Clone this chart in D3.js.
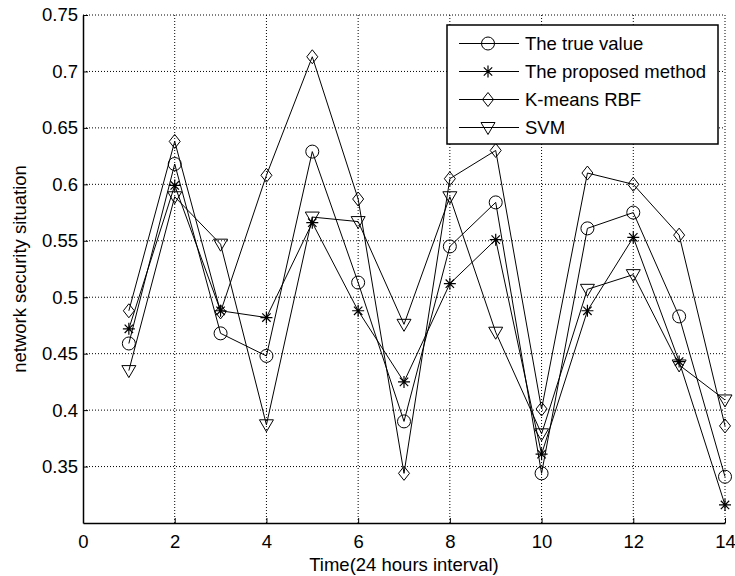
<!DOCTYPE html>
<html>
<head>
<meta charset="utf-8">
<script src="https://cdn.jsdelivr.net/npm/d3@7"></script>
<style>
  body { margin: 0; background: #fff; }
  text { font-family: "Liberation Sans", Arial, sans-serif; }
</style>
</head>
<body>
<svg class="chart"></svg>
<script>
var svgWidth = 735, svgHeight = 576;
var margin = { left: 83, right: 10, top: 15, bottom: 53 };
var fontSize = '18.5px';

var days = [1, 2, 3, 4, 5, 6, 7, 8, 9, 10, 11, 12, 13, 14];
var trueValue = [0.459, 0.618, 0.468, 0.448, 0.629, 0.513, 0.390, 0.545, 0.584, 0.344, 0.561, 0.575, 0.483, 0.341];
var proposed  = [0.472, 0.599, 0.488, 0.482, 0.566, 0.488, 0.425, 0.512, 0.551, 0.361, 0.488, 0.553, 0.443, 0.316];
var kmeansRbf = [0.488, 0.638, 0.487, 0.608, 0.713, 0.587, 0.344, 0.605, 0.630, 0.401, 0.610, 0.600, 0.555, 0.386];
var svm       = [0.435, 0.589, 0.547, 0.387, 0.571, 0.567, 0.476, 0.589, 0.469, 0.379, 0.507, 0.520, 0.440, 0.409];

var xTicks = [0, 2, 4, 6, 8, 10, 12, 14];
var yTicks = [0.35, 0.4, 0.45, 0.5, 0.55, 0.6, 0.65, 0.7, 0.75];

var series = [
  { name: 'The true value', values: trueValue, marker: 'circle' },
  { name: 'The proposed method', values: proposed, marker: 'star' },
  { name: 'K-means RBF', values: kmeansRbf, marker: 'diamond' },
  { name: 'SVM', values: svm, marker: 'triangle' }
];

var svg = d3.select('svg.chart').attr('width', svgWidth).attr('height', svgHeight);
var w = svgWidth - margin.left - margin.right;
var h = svgHeight - margin.top - margin.bottom;

var x = d3.scaleLinear().domain([0, 14]).range([0, w]);
var y = d3.scaleLinear().domain([0.3, 0.75]).range([h, 0]);

var g = svg.append('g')
    .attr('transform', 'translate(' + margin.left + ',' + margin.top + ')');

// grid
g.selectAll('line.gx')
    .data(xTicks.filter(function(d) { return d > 0; }))
    .enter()
    .append('line')
    .attr('class', 'gx')
    .attr('x1', function(d) { return x(d); })
    .attr('x2', function(d) { return x(d); })
    .attr('y1', 0).attr('y2', h)
    .attr('stroke', '#000').attr('stroke-width', 1)
    .attr('stroke-dasharray', '1,2');

g.selectAll('line.gy')
    .data(yTicks)
    .enter()
    .append('line')
    .attr('class', 'gy')
    .attr('x1', 0).attr('x2', w)
    .attr('y1', function(d) { return y(d); })
    .attr('y2', function(d) { return y(d); })
    .attr('stroke', '#000').attr('stroke-width', 1)
    .attr('stroke-dasharray', '1,2');

// axes
var xAxis = d3.axisBottom(x).tickValues(xTicks).tickSizeInner(-5).tickSizeOuter(0).tickPadding(12);
var yAxis = d3.axisLeft(y).tickValues(yTicks).tickSizeInner(-5).tickSizeOuter(0).tickPadding(5)
    .tickFormat(function(d) { return String(+d.toFixed(2)); });

var gx = g.append('g').attr('transform', 'translate(0,' + h + ')').call(xAxis);
var gy = g.append('g').call(yAxis);
[gx, gy].forEach(function(a) {
  a.select('.domain').attr('stroke', '#000').attr('stroke-width', 1.5);
  a.selectAll('.tick line').attr('stroke', '#000');
  a.selectAll('.tick text').attr('fill', '#000').style('font-size', fontSize)
      .style('font-family', '"Liberation Sans", Arial, sans-serif');
});

svg.append('text')
    .attr('x', margin.left + w / 2)
    .attr('y', 571)
    .attr('text-anchor', 'middle')
    .style('font-size', fontSize)
    .text('Time(24 hours interval)');

svg.append('text')
    .attr('transform', 'translate(26,' + (margin.top + h / 2) + ') rotate(-90)')
    .attr('text-anchor', 'middle')
    .style('font-size', fontSize)
    .text('network security situation');

// markers
function drawMarker(sel, type) {
  if (type === 'circle') {
    sel.append('circle').attr('r', 6.5).attr('fill', 'none').attr('stroke', '#000');
  } else if (type === 'diamond') {
    sel.append('path').attr('d', 'M0,-7L5.5,0L0,7L-5.5,0Z').attr('fill', 'none').attr('stroke', '#000');
  } else if (type === 'triangle') {
    sel.append('path').attr('d', 'M-7,-5L7,-5L0,7Z').attr('fill', 'none').attr('stroke', '#000');
  } else if (type === 'star') {
    sel.append('path')
        .attr('d', 'M0,-6L0,6M-6,0L6,0M-4.2,-4.2L4.2,4.2M-4.2,4.2L4.2,-4.2')
        .attr('stroke', '#000').attr('stroke-width', 1.2);
  }
}

var line = d3.line()
    .x(function(d, i) { return x(days[i]); })
    .y(function(d) { return y(d); });

series.forEach(function(s) {
  g.append('path')
      .datum(s.values)
      .attr('d', line)
      .attr('fill', 'none')
      .attr('stroke', '#000')
      .attr('stroke-width', 1);

  g.selectAll('g.m-' + s.marker)
      .data(s.values)
      .enter()
      .append('g')
      .attr('class', 'm-' + s.marker)
      .attr('transform', function(d, i) { return 'translate(' + x(days[i]) + ',' + y(d) + ')'; })
      .each(function() { drawMarker(d3.select(this), s.marker); });
});

// legend
var lg = svg.append('g').attr('class', 'legend').attr('transform', 'translate(447,25)');
lg.append('rect')
    .attr('width', 271).attr('height', 119)
    .attr('fill', '#fff').attr('stroke', '#000').attr('stroke-width', 1.5);

var items = lg.selectAll('g.item')
    .data(series)
    .enter()
    .append('g')
    .attr('class', 'item')
    .attr('transform', function(d, i) { return 'translate(0,' + (18.5 + i * 28) + ')'; });

items.append('line')
    .attr('x1', 12).attr('x2', 72)
    .attr('stroke', '#000');
items.each(function(d) {
  var m = d3.select(this).append('g').attr('transform', 'translate(41,0)');
  drawMarker(m, d.marker);
});
items.append('text')
    .attr('x', 78)
    .attr('dy', '0.35em')
    .style('font-size', fontSize)
    .text(function(d) { return d.name; });
</script>
</body>
</html>
